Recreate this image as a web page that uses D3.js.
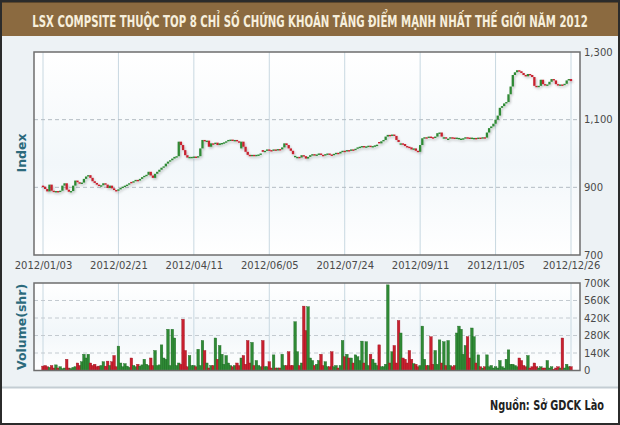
<!DOCTYPE html>
<html>
<head>
<meta charset="utf-8">
<script src="https://cdn.jsdelivr.net/npm/d3@7"></script>
<style>
  body { margin: 0; background: #fff; }
  svg { display: block; }
</style>
</head>
<body>
<svg id="chart" width="620" height="425"></svg>
<script>
// ---- data ----
var tickIdx = [0, 35, 70, 105, 140, 175, 210, 245];
var tickLabels = ["2012/01/03", "2012/02/21", "2012/04/11", "2012/06/05",
                  "2012/07/24", "2012/09/11", "2012/11/05", "2012/12/26"];
var indexTicks = [700, 900, 1100, 1300];
var volumeTicks = [0, 140, 280, 420, 560, 700];   // thousand shares

var openVals = [
  905,902,895,888,908,890,886,889,887,890,
  905,912,893,887,889,905,920,915,912,914,
  925,932,936,928,918,913,908,904,906,912,
  908,898,905,897,892,890,894,898,902,905,
  908,916,915,918,922,920,925,930,934,937,
  946,935,928,940,946,952,958,962,970,976,
  980,985,990,992,1035,1025,1010,995,988,990,
  990,991,990,992,1015,1040,1036,1038,1020,1030,
  1028,1032,1025,1030,1031,1033,1036,1040,1041,1038,
  1040,1036,1015,1035,1020,1005,996,995,996,995,
  996,997,1010,1005,1008,1012,1010,1008,1012,1010,
  1013,1012,1018,1030,1025,1015,1008,990,989,990,
  988,995,992,985,990,995,998,994,997,1000,
  996,994,998,1000,997,995,999,1002,1000,1005,
  1008,1007,1010,1008,1012,1010,1014,1018,1020,1022,
  1018,1021,1023,1020,1022,1024,1034,1030,1036,1040,
  1050,1055,1054,1056,1052,1040,1026,1030,1028,1022,
  1020,1018,1012,1015,1008,1005,1025,1045,1048,1046,
  1050,1048,1047,1050,1060,1062,1045,1048,1041,1044,
  1048,1047,1045,1045,1043,1044,1045,1048,1047,1046,
  1044,1046,1045,1047,1046,1048,1047,1062,1075,1080,
  1088,1100,1112,1135,1140,1148,1152,1175,1198,1232,
  1240,1246,1243,1238,1232,1228,1235,1232,1226,1200,
  1199,1200,1218,1205,1202,1204,1212,1220,1216,1205,
  1203,1204,1202,1206,1216,1220
];
var closeVals = [
  902,895,888,908,890,886,889,887,890,905,
  912,893,887,889,905,920,915,912,914,925,
  932,936,928,918,913,908,904,906,912,908,
  898,905,897,892,890,894,898,902,905,908,
  912,915,918,922,920,925,930,934,937,946,
  935,928,940,946,952,958,962,970,976,980,
  985,990,992,1035,1025,1010,995,988,990,990,
  991,990,992,1015,1040,1036,1038,1020,1030,1028,
  1032,1025,1030,1031,1033,1036,1040,1041,1038,1040,
  1036,1033,1035,1020,1005,996,995,996,995,996,
  997,1000,1005,1008,1012,1010,1008,1012,1010,1013,
  1012,1018,1030,1025,1015,1008,998,993,990,988,
  995,992,985,990,995,998,994,997,1000,996,
  994,998,1000,997,995,999,1002,1000,1005,1008,
  1007,1010,1008,1012,1010,1014,1018,1020,1022,1018,
  1021,1023,1020,1022,1024,1026,1030,1036,1040,1050,
  1055,1054,1056,1052,1040,1034,1030,1028,1022,1020,
  1018,1012,1015,1008,1005,1025,1045,1048,1046,1050,
  1048,1047,1050,1060,1062,1050,1048,1046,1044,1048,
  1047,1045,1047,1046,1044,1045,1048,1047,1046,1047,
  1046,1045,1047,1046,1048,1047,1062,1075,1080,1088,
  1100,1112,1135,1140,1148,1152,1175,1198,1232,1240,
  1246,1243,1238,1232,1228,1235,1232,1226,1200,1199,
  1200,1218,1205,1202,1204,1212,1220,1216,1205,1203,
  1204,1202,1206,1216,1220,1214
];
var volumeK = [
  35,40,30,25,40,20,45,20,30,15,
  20,90,20,15,25,30,60,40,70,130,
  100,130,60,40,50,30,35,40,70,35,
  75,40,70,120,30,195,60,30,55,35,
  25,100,40,30,50,35,45,90,50,40,
  100,40,160,40,45,205,100,90,330,40,
  330,260,40,60,50,410,160,30,120,40,
  40,30,170,40,240,160,60,20,40,40,
  260,90,200,130,50,120,60,40,30,40,
  60,40,100,120,50,240,60,225,40,80,
  40,30,240,30,30,70,20,125,20,20,
  20,130,40,40,150,40,40,390,150,40,
  60,515,320,510,100,80,40,50,80,130,
  40,70,30,30,150,30,40,20,40,240,
  110,130,100,100,60,125,110,80,235,60,
  230,40,130,90,60,40,205,30,30,50,
  685,60,150,200,60,400,300,100,90,60,
  160,90,55,50,30,40,355,90,40,40,
  270,50,160,50,245,60,230,40,240,40,
  30,40,300,355,330,130,200,270,100,340,
  270,60,125,30,20,30,125,30,40,20,
  30,20,80,30,20,90,165,50,50,40,
  30,100,80,40,30,120,20,30,60,30,
  20,30,20,20,80,20,30,10,20,30,
  20,260,20,50,30,30
];

// ---- layout ----
var W = 620, H = 425;
var main = {left: 34, right: 580, top: 52, bottom: 255};
var vol  = {left: 34, right: 580, top: 283, bottom: 370.5};
var green = "#2f8a35", red = "#c8202f";
var greenDark = "#1f6a26", redDark = "#9c1422";

var svg = d3.select("#chart");
var defs = svg.append("defs");

var grad = defs.append("linearGradient").attr("id", "plotBg")
  .attr("x1", 0).attr("y1", 0).attr("x2", 0).attr("y2", 1);
grad.append("stop").attr("offset", "0%").attr("stop-color", "#ffffff");
grad.append("stop").attr("offset", "55%").attr("stop-color", "#f2f7fa");
grad.append("stop").attr("offset", "100%").attr("stop-color", "#ffffff");

var shadow = defs.append("filter").attr("id", "shadow")
  .attr("x", "-20%").attr("y", "-20%").attr("width", "140%").attr("height", "140%");
shadow.append("feDropShadow").attr("dx", 1).attr("dy", 1.5)
  .attr("stdDeviation", 1).attr("flood-color", "#000").attr("flood-opacity", 0.25);

// page background, panel, banner
svg.append("rect").attr("width", W).attr("height", H).attr("fill", "#fff");
svg.append("rect").attr("x", 0).attr("y", 35).attr("width", W).attr("height", 352)
  .attr("fill", "#edf2f5");
svg.append("line").attr("x1", 0).attr("x2", W).attr("y1", 387.5).attr("y2", 387.5)
  .attr("stroke", "#c4cdd3").attr("stroke-width", 2);
svg.append("rect").attr("x", 0).attr("y", 0).attr("width", W).attr("height", 36)
  .attr("fill", "#8b6a40");
svg.append("rect").attr("x", 0).attr("y", 0).attr("width", W).attr("height", 2.5)
  .attr("fill", "#2e251b");
svg.append("rect").attr("x", 1).attr("y", 1).attr("width", W - 2).attr("height", H - 2)
  .attr("fill", "none").attr("stroke", "#2b2b2b").attr("stroke-width", 2);

// squeeze a text horizontally so it spans a target width (keeps glyph height)
function squeeze(sel, cx, cy, anchor, width) {
  sel.attr("text-anchor", anchor).attr("x", 0).attr("y", 0);
  var len = sel.node().getComputedTextLength();
  var sx = len > 0 ? width / len : 1;
  sel.attr("transform", "translate(" + cx + "," + cy + ") scale(" + sx.toFixed(4) + ",1)");
}

var narrow = "'Liberation Sans Narrow', 'DejaVu Sans Condensed', Roboto, sans-serif";

var title = svg.append("text")
  .style("font-family", narrow)
  .style("font-weight", "bold").style("font-size", "16.5px")
  .attr("fill", "#f7efdc")
  .text("LSX COMPSITE THUỘC TOP 8 CHỈ SỐ CHỨNG KHOÁN TĂNG ĐIỂM MẠNH NHẤT THẾ GIỚI NĂM 2012");
squeeze(title, 310, 26.5, "middle", 556);

// ---- scales ----
var x = d3.scaleLinear().domain([0, closeVals.length - 1]).range([43, 571]);
var y = d3.scaleLinear().domain([700, 1300]).range([main.bottom, main.top]);
var yv = d3.scaleLinear().domain([0, 700]).range([vol.bottom, vol.top]);

function panel(box) {
  var g = svg.append("g");
  g.append("rect").attr("x", box.left).attr("y", box.top)
    .attr("width", box.right - box.left).attr("height", box.bottom - box.top)
    .attr("fill", "url(#plotBg)");
  g.selectAll(".vgrid").data(tickIdx).enter().append("line")
    .attr("x1", function(d) { return x(d); }).attr("x2", function(d) { return x(d); })
    .attr("y1", box.top).attr("y2", box.bottom)
    .attr("stroke", "#c8d8e1").attr("stroke-width", 1);
  return g;
}

function isUp(i) { return closeVals[i] >= openVals[i]; }

// ---- index panel ----
var gMain = panel(main);
gMain.selectAll(".hgrid").data([900, 1100]).enter().append("line")
  .attr("x1", main.left).attr("x2", main.right)
  .attr("y1", function(d) { return y(d); }).attr("y2", function(d) { return y(d); })
  .attr("stroke", "#b4bcc3").attr("stroke-dasharray", "4,3");

var candles = gMain.append("g").attr("filter", "url(#shadow)");
candles.selectAll("rect").data(closeVals).enter().append("rect")
  .attr("x", function(d, i) { return x(i) - 1.15; })
  .attr("width", 2.3)
  .attr("y", function(d, i) { return y(Math.max(d, openVals[i])); })
  .attr("height", function(d, i) { return Math.max(1.4, Math.abs(y(d) - y(openVals[i]))); })
  .attr("fill", function(d, i) { return isUp(i) ? green : red; });

gMain.append("rect").attr("x", main.left).attr("y", main.top)
  .attr("width", main.right - main.left).attr("height", main.bottom - main.top)
  .attr("fill", "none").attr("stroke", "#6e6e6e").attr("stroke-width", 1.5);

// ---- volume panel ----
var gVol = panel(vol);
gVol.selectAll(".hgrid").data([140, 280, 420, 560]).enter().append("line")
  .attr("x1", vol.left).attr("x2", vol.right)
  .attr("y1", function(d) { return yv(d); }).attr("y2", function(d) { return yv(d); })
  .attr("stroke", "#c3cad0").attr("stroke-dasharray", "4,3");

gVol.append("g").selectAll("rect").data(volumeK).enter().append("rect")
  .attr("x", function(d, i) { return x(i) - 1.3; })
  .attr("width", 2.6)
  .attr("y", function(d) { return yv(d); })
  .attr("height", function(d) { return yv(0) - yv(d); })
  .attr("fill", function(d, i) { return isUp(i) ? green : red; })
  .attr("stroke", function(d, i) { return isUp(i) ? greenDark : redDark; })
  .attr("stroke-width", 0.4);

gVol.append("rect").attr("x", vol.left).attr("y", vol.top)
  .attr("width", vol.right - vol.left).attr("height", vol.bottom - vol.top)
  .attr("fill", "none").attr("stroke", "#6e6e6e").attr("stroke-width", 1.5);

// ---- axes ----
var axisFont = "'DejaVu Sans', Verdana, sans-serif";

var yAxis = svg.append("g").attr("transform", "translate(" + main.right + ",0)")
  .call(d3.axisRight(y).tickValues(indexTicks).tickFormat(d3.format(",")).tickSize(0).tickPadding(4));
var yvAxis = svg.append("g").attr("transform", "translate(" + vol.right + ",0)")
  .call(d3.axisRight(yv).tickValues(volumeTicks)
    .tickFormat(function(d) { return d === 0 ? "0" : d + "K"; }).tickSize(0).tickPadding(4));
var xAxis = svg.append("g").attr("transform", "translate(0,262)")
  .call(d3.axisBottom(x).tickValues(tickIdx)
    .tickFormat(function(d, i) { return tickLabels[i]; }).tickSize(0).tickPadding(0));

[yAxis, yvAxis, xAxis].forEach(function(a) {
  a.select(".domain").remove();
  a.selectAll("text").style("font-family", axisFont).style("font-size", "10px").attr("fill", "#4a4a4a");
});

svg.append("text")
  .attr("transform", "translate(26,153) rotate(-90)")
  .attr("text-anchor", "middle")
  .style("font-family", axisFont).style("font-weight", "bold").style("font-size", "12.5px")
  .attr("fill", "#2c6a7c")
  .text("Index");
svg.append("text")
  .attr("transform", "translate(26,327) rotate(-90)")
  .attr("text-anchor", "middle")
  .style("font-family", axisFont).style("font-weight", "bold").style("font-size", "12.5px")
  .attr("fill", "#2c6a7c")
  .text("Volume(shr)");

// source note
var source = svg.append("text")
  .style("font-family", narrow)
  .style("font-weight", "bold").style("font-size", "14.5px")
  .attr("fill", "#222")
  .text("Nguồn: Sở GDCK Lào");
squeeze(source, 604, 410, "end", 114);
</script>
</body>
</html>
